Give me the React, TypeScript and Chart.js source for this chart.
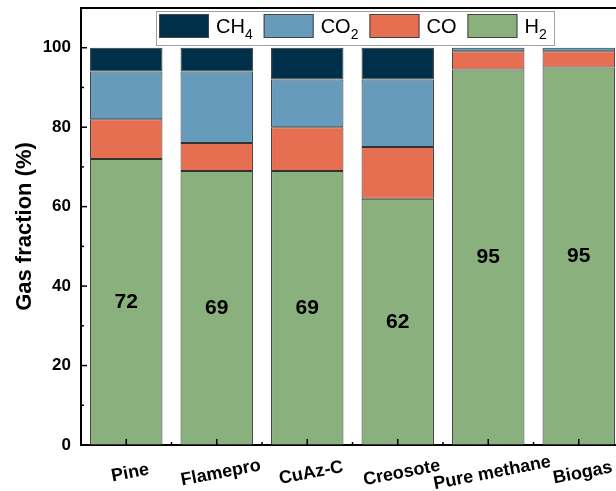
import React, { useEffect, useRef } from 'react';
import { Chart, registerables } from 'chart.js';

Chart.register(...registerables);

const categories = ['Pine', 'Flamepro', 'CuAz-C', 'Creosote', 'Pure methane', 'Biogas'];
const h2Values = [72, 69, 69, 62, 94.5, 95];
const coValues = [10, 7, 11, 13, 4.6, 4.1];
const co2Values = [12, 18, 12, 17, 0.9, 0.9];
const ch4Values = [6, 6, 8, 8, 0, 0];
const barLabels = ['72', '69', '69', '62', '95', '95'];
const yTicks = [0, 20, 40, 60, 80, 100];

const legendNames = ['CH', 'CO', 'CO', 'H'];
const legendSubs = ['4', '2', '', '2'];
const legendColors = ['#003049', '#669BBC', '#E76F51', '#8AB17D'];

const FONT = "'Liberation Sans', Arial, sans-serif";

const decorPlugin = {
  id: 'decor',
  afterDatasetsDraw(chart: any) {
    const { ctx, chartArea: a, scales } = chart;
    const y = scales.y;
    const x = scales.x;
    ctx.save();
    ctx.strokeStyle = '#000';
    ctx.lineWidth = 1.5;
    // y ticks (major + minor, inward)
    for (let v = 0; v <= 100; v += 10) {
      const py = y.getPixelForValue(v);
      const len = v % 20 === 0 ? 6 : 3;
      ctx.beginPath();
      ctx.moveTo(a.left, py);
      ctx.lineTo(a.left + len, py);
      ctx.stroke();
    }
    // x ticks
    const n = categories.length;
    const cw = (a.right - a.left) / n;
    for (let i = 0; i < n; i++) {
      const px = x.getPixelForValue(i);
      ctx.beginPath();
      ctx.moveTo(px, a.bottom);
      ctx.lineTo(px, a.bottom - 6);
      ctx.stroke();
      const bx = px + cw / 2;
      ctx.beginPath();
      ctx.moveTo(bx, a.bottom);
      ctx.lineTo(bx, a.bottom - 3);
      ctx.stroke();
    }
    // bar value labels
    ctx.fillStyle = '#000';
    ctx.font = `bold 21px ${FONT}`;
    ctx.textAlign = 'center';
    ctx.textBaseline = 'middle';
    for (let i = 0; i < n; i++) {
      const px = x.getPixelForValue(i);
      const py = y.getPixelForValue(h2Values[i] / 2);
      ctx.fillText(barLabels[i], px, py);
    }
    // x category labels (rotated, centered)
    ctx.font = `bold 18px ${FONT}`;
    for (let i = 0; i < n; i++) {
      const px = x.getPixelForValue(i) + 4;
      ctx.save();
      ctx.translate(px, a.bottom + 28);
      ctx.rotate((-11 * Math.PI) / 180);
      ctx.fillText(categories[i], 0, 0);
      ctx.restore();
    }
    // top frame
    ctx.strokeStyle = '#000';
    ctx.lineWidth = 2;
    ctx.beginPath();
    ctx.moveTo(a.left - 1, a.top);
    ctx.lineTo(a.right, a.top);
    ctx.stroke();
    // legend
    const lx = 156, ly = 11, lw = 398, lh = 34;
    ctx.fillStyle = '#fff';
    ctx.fillRect(lx, ly, lw, lh);
    ctx.strokeStyle = '#a0a0a0';
    ctx.lineWidth = 1;
    ctx.strokeRect(lx + 0.5, ly + 0.5, lw, lh);
    let cx = lx + 3;
    const boxW = 50, boxH = 24, boxY = ly + 3;
    for (let k = 0; k < legendNames.length; k++) {
      ctx.fillStyle = legendColors[k];
      ctx.fillRect(cx, boxY, boxW, boxH);
      ctx.strokeStyle = '#444';
      ctx.lineWidth = 1;
      ctx.strokeRect(cx + 0.5, boxY + 0.5, boxW - 1, boxH - 1);
      let tx = cx + boxW + 7;
      ctx.fillStyle = '#000';
      ctx.textAlign = 'left';
      ctx.textBaseline = 'alphabetic';
      ctx.font = `20px ${FONT}`;
      const base = boxY + boxH / 2 + 7;
      ctx.fillText(legendNames[k], tx, base);
      tx += ctx.measureText(legendNames[k]).width;
      if (legendSubs[k]) {
        ctx.font = `14px ${FONT}`;
        ctx.fillText(legendSubs[k], tx, base + 6);
        tx += ctx.measureText(legendSubs[k]).width;
      }
      cx = tx + 11;
    }
    ctx.restore();
  },
};

export default function App() {
  const ref = useRef<HTMLCanvasElement | null>(null);
  useEffect(() => {
    if (!ref.current) return;
    const ds = (label: string, data: number[], color: string) => ({
      label,
      data,
      backgroundColor: color,
      borderColor: '#333',
      borderWidth: 1,
      borderSkipped: false,
      categoryPercentage: 0.8,
      barPercentage: 1.0,
    });
    const chart = new Chart(ref.current, {
      type: 'bar',
      data: {
        labels: categories,
        datasets: [
          ds('H2', h2Values, legendColors[3]),
          ds('CO', coValues, legendColors[2]),
          ds('CO2', co2Values, legendColors[1]),
          ds('CH4', ch4Values, legendColors[0]),
        ],
      },
      options: {
        responsive: false,
        animation: false,
        layout: { padding: { top: 8, left: 0, right: 0, bottom: 0 } },
        plugins: { legend: { display: false }, tooltip: { enabled: false } },
        scales: {
          x: {
            stacked: true,
            grid: { display: false, drawTicks: false },
            ticks: { display: false },
            border: { display: true, color: '#000', width: 2 },
            afterFit: (s: any) => {
              s.height = 46;
              s.paddingLeft = 0;
              s.paddingRight = 0;
            },
          },
          y: {
            stacked: true,
            min: 0,
            max: 110,
            grid: { display: false, drawTicks: false },
            border: { display: true, color: '#000', width: 2 },
            afterBuildTicks: (s: any) => { s.ticks = yTicks.map((v) => ({ value: v })); },
            ticks: {
              color: '#000',
              padding: 10,
              font: { family: FONT, size: 17, weight: 'bold' },
            },
            title: {
              display: true,
              text: 'Gas fraction (%)',
              color: '#000',
              font: { family: FONT, size: 22, weight: 'bold' },
              padding: { top: 12, bottom: 0 },
            },
            afterFit: (s: any) => {
              s.width = 81;
              s.paddingTop = 0;
              s.paddingBottom = 0;
            },
          },
        },
      },
      plugins: [decorPlugin],
    });
    return () => chart.destroy();
  }, []);
  return (
    <div style={{ position: 'fixed', left: 0, top: 0, width: 616, height: 491, overflow: 'hidden', background: '#fff' }}>
      <canvas ref={ref} width={624} height={491} style={{ display: 'block' }} />
    </div>
  );
}
